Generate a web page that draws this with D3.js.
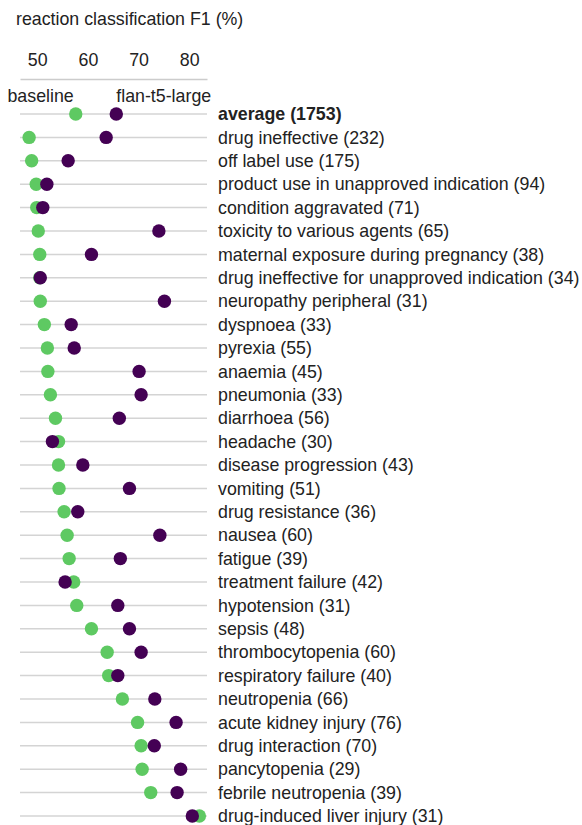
<!DOCTYPE html>
<html>
<head>
<meta charset="utf-8">
<script src="https://cdn.jsdelivr.net/npm/d3@7"></script>
<style>
  body { margin: 0; background: #fff; }
  svg text { font-family: "Liberation Sans", Arial, sans-serif; fill: #222; }
</style>
</head>
<body>
<svg id="chart" width="582" height="825"></svg>
<script>
// reactions with their count of examples
var reactions = ["average", "drug ineffective", "off label use", "product use in unapproved indication",
  "condition aggravated", "toxicity to various agents", "maternal exposure during pregnancy",
  "drug ineffective for unapproved indication", "neuropathy peripheral", "dyspnoea", "pyrexia",
  "anaemia", "pneumonia", "diarrhoea", "headache", "disease progression", "vomiting",
  "drug resistance", "nausea", "fatigue", "treatment failure", "hypotension", "sepsis",
  "thrombocytopenia", "respiratory failure", "neutropenia", "acute kidney injury",
  "drug interaction", "pancytopenia", "febrile neutropenia", "drug-induced liver injury"];
var counts = [1753, 232, 175, 94, 71, 65, 38, 34, 31, 33, 55, 45, 33, 56, 30, 43, 51, 36, 60, 39,
  42, 31, 48, 60, 40, 66, 76, 70, 29, 39, 31];
var baseline = [57.6, 48.4, 48.9, 49.8, 49.9, 50.2, 50.5, 50.5, 50.6, 51.4, 52.0, 52.1, 52.6, 53.6,
  54.2, 54.2, 54.3, 55.3, 55.9, 56.3, 57.2, 57.8, 60.7, 63.8, 64.1, 66.8, 69.8, 70.5, 70.7, 72.4, 82.0];
var flan = [65.6, 63.6, 56.1, 51.9, 51.1, 74.0, 60.7, 50.6, 75.1, 56.7, 57.3, 70.1, 70.5, 66.2,
  53.0, 59.0, 68.2, 58.0, 74.2, 66.4, 55.5, 65.9, 68.2, 70.5, 65.9, 73.2, 77.4, 73.1, 78.3, 77.6, 80.6];
var ticks = [50, 60, 70, 80];
var seriesNames = ["baseline", "flan-t5-large"];

var svg = d3.select("#chart");
var green = "#5ec962", purple = "#440154";
var fs = 17.8;

var x = d3.scaleLinear().domain([46.6, 83.5]).range([20, 207]);
var y = d3.scalePoint().domain(reactions).range([114, 816]);

// title
svg.append("text")
  .attr("x", 16).attr("y", 25)
  .attr("font-size", fs)
  .text("reaction classification F1 (%)");

// top axis, no tick marks
var axis = svg.append("g")
  .attr("transform", "translate(0,79)")
  .call(d3.axisTop(x).tickValues(ticks).tickSize(0).tickPadding(13));
axis.select(".domain").attr("stroke", "#ccc").attr("stroke-width", 1.5);
axis.selectAll("text")
  .attr("font-size", fs)
  .attr("font-family", "Liberation Sans, Arial, sans-serif")
  .attr("fill", "#222");

// row lines
svg.selectAll(".row")
  .data(reactions)
  .enter().append("line")
    .attr("class", "row")
    .attr("x1", x.range()[0]).attr("x2", x.range()[1])
    .attr("y1", function(d){ return y(d); })
    .attr("y2", function(d){ return y(d); })
    .attr("stroke", "#d4d4d4")
    .attr("stroke-width", 1.5);

// legend labels sit next to the average dots
svg.append("text")
  .attr("x", x(baseline[0]) - 2).attr("y", 102)
  .attr("text-anchor", "end")
  .attr("font-size", fs)
  .text(seriesNames[0]);
svg.append("text")
  .attr("x", x(flan[0])).attr("y", 102)
  .attr("font-size", fs)
  .text(seriesNames[1]);

// dots: baseline first, flan on top
svg.selectAll(".base")
  .data(baseline)
  .enter().append("circle")
    .attr("class", "base")
    .attr("cx", function(d){ return x(d); })
    .attr("cy", function(d, i){ return y(reactions[i]); })
    .attr("r", 6.7)
    .attr("fill", green);

svg.selectAll(".flan")
  .data(flan)
  .enter().append("circle")
    .attr("class", "flan")
    .attr("cx", function(d){ return x(d); })
    .attr("cy", function(d, i){ return y(reactions[i]); })
    .attr("r", 6.7)
    .attr("fill", purple);

// row labels
svg.selectAll(".label")
  .data(reactions)
  .enter().append("text")
    .attr("class", "label")
    .attr("x", 218)
    .attr("y", function(d){ return y(d); })
    .attr("dy", "0.35em")
    .attr("font-size", fs)
    .attr("font-weight", function(d, i){ return i === 0 ? "bold" : "normal"; })
    .text(function(d, i){ return d + " (" + counts[i] + ")"; });
</script>
</body>
</html>
